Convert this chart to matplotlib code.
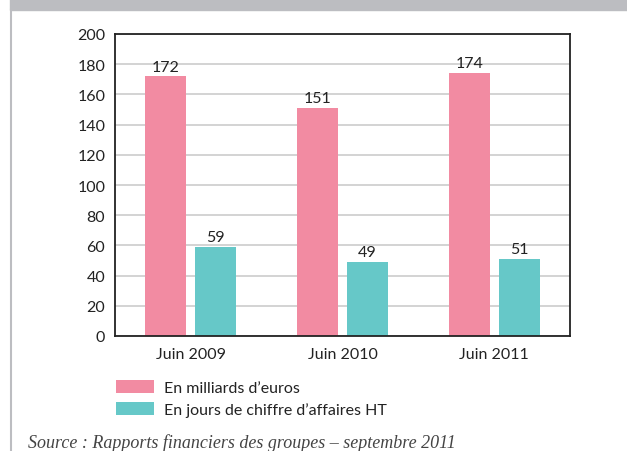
import numpy as np
import matplotlib.pyplot as plt
from matplotlib.patches import Rectangle

# data
years = ["Juin 2009", "Juin 2010", "Juin 2011"]
milliards = [172, 151, 174]
jours = [59, 49, 51]
labels = ["En milliards d\u2019euros", "En jours de chiffre d\u2019affaires HT"]
yticks = list(range(0, 201, 20))

pink = "#f28ba2"
teal = "#66c8c8"
txt = "#222222"

plt.rcParams['font.family'] = ['Lato', 'DejaVu Sans']

fig = plt.figure(figsize=(6.27, 4.52), dpi=100)

# gray header band and left frame line
fig.patches.append(Rectangle((10 / 627, 1 - 11 / 452), 1, 11 / 452, transform=fig.transFigure,
                             color="#bcbdc1", zorder=0))
fig.add_artist(plt.Line2D([10.5 / 627, 10.5 / 627], [0, 1 - 11 / 452], transform=fig.transFigure,
                          color="#bcbdc1", lw=1.5))

ax = fig.add_axes([115 / 627, 1 - 337 / 452, 455 / 627, 302 / 452])

x = np.arange(len(years))
w = 0.27
off = 0.165
b1 = ax.bar(x - off, milliards, w, color=pink, label=labels[0], zorder=2)
b2 = ax.bar(x + off, jours, w, color=teal, label=labels[1], zorder=2)

for bars, vals in ((b1, milliards), (b2, jours)):
    for r, v in zip(bars, vals):
        ax.annotate(str(v), (r.get_x() + r.get_width() / 2, v), xytext=(0, 2),
                    textcoords="offset points", ha="center", va="bottom",
                    fontsize=11.5, color=txt)

ax.set_xlim(-0.5, 2.5)
ax.set_ylim(0, 200)
ax.set_yticks(yticks)
ax.set_xticks(x)
ax.set_xticklabels(years)
ax.tick_params(length=0, labelsize=11.5, colors=txt)
ax.tick_params(axis="y", pad=7)
ax.tick_params(axis="x", pad=8)
ax.yaxis.grid(True, color="#cccccc", lw=1.2, zorder=1)
ax.set_axisbelow(True)
for s in ax.spines.values():
    s.set_color("#222222")
    s.set_linewidth(1.3)

leg = fig.legend(handles=[b1, b2], labels=labels, loc="upper left",
                 bbox_to_anchor=(103 / 627, 1 - 368 / 452), frameon=False,
                 fontsize=11.5, handlelength=2.4, handleheight=0.9,
                 handletextpad=0.6, labelspacing=0.42, borderpad=0.3)
for t in leg.get_texts():
    t.set_color(txt)

fig.text(28 / 627, 1 - 448 / 452, "Source : Rapports financiers des groupes \u2013 septembre 2011",
         family="Liberation Serif", style="italic", fontsize=13, color="#444444",
         ha="left", va="baseline")

fig.savefig("out.png", dpi=100)
